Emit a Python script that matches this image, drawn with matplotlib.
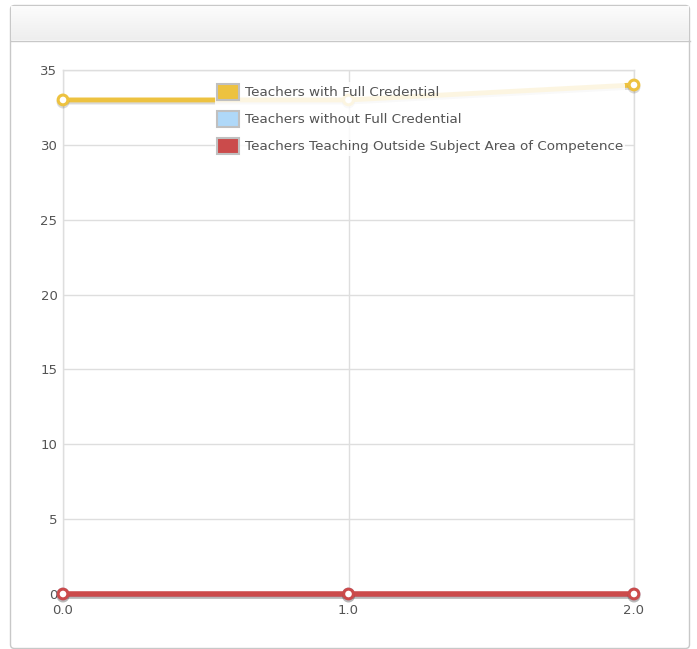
import matplotlib
matplotlib.use("Agg")
import matplotlib.pyplot as plt
import numpy as np
from matplotlib.patches import FancyBboxPatch, Patch
from matplotlib import patheffects as pe

x_values = [0, 1, 2]
x_tick_labels = ["0.0", "1.0", "2.0"]
y_ticks = [0, 5, 10, 15, 20, 25, 30, 35]
series_names = ["Teachers with Full Credential",
                "Teachers without Full Credential",
                "Teachers Teaching Outside Subject Area of Competence"]
full_credential = [33, 33, 34]
without_credential = [0, 0, 0]
outside_subject = [0, 0, 0]
colors = ["#EDC240", "#AFD8F8", "#CB4B4B"]

W, H = 697, 649
fig = plt.figure(figsize=(W / 100, H / 100), dpi=100)
fig.patch.set_facecolor("white")

# outer panel
panel = FancyBboxPatch((10.5 / W, 1 - 648.5 / H), 679 / W, 643 / H,
                       boxstyle="round,pad=0,rounding_size=0.006",
                       transform=fig.transFigure, facecolor="white",
                       edgecolor="#c8c8c8", linewidth=1.0, zorder=-5)
fig.patches.append(panel)
# header gradient
grad = np.linspace(0, 1, 50).reshape(-1, 1)
hax = fig.add_axes([11 / W, 1 - 40 / H, 678 / W, 34 / H], zorder=1)
hax.imshow(grad, aspect="auto", cmap=matplotlib.colors.LinearSegmentedColormap.from_list(
    "g", ["#fcfcfc", "#eeeeee"]), extent=[0, 1, 0, 1], origin="upper")
hax.set_axis_off()
fig.add_artist(plt.Line2D([10.5 / W, 689.5 / W], [1 - 40.5 / H, 1 - 40.5 / H],
                          transform=fig.transFigure, color="#c8c8c8", lw=1.0, zorder=2))

ax = fig.add_axes([63 / W, 1 - 594 / H, (634 - 63) / W, (594 - 70) / H], zorder=1)
ax.set_xlim(0, 2)
ax.set_ylim(0, 35)
ax.set_xticks(x_values)
ax.set_xticklabels(x_tick_labels)
ax.set_yticks(y_ticks)
ax.grid(True, color="#dedede", linewidth=1.0)
ax.set_axisbelow(True)
for s in ax.spines.values():
    s.set_color("#dedede")
    s.set_linewidth(1.0)
ax.tick_params(length=0, labelsize=9.5, labelcolor="#545454")
ax.tick_params(axis="x", pad=7)
ax.tick_params(axis="y", pad=4)

shadow = [pe.SimpleLineShadow(offset=(0, -1.5), shadow_color="black", alpha=0.15), pe.Normal()]
for vals, c, lw in [(full_credential, colors[0], 3.5),
                    (without_credential, colors[1], 3.5),
                    (outside_subject, colors[2], 4.0)]:
    ax.plot(x_values, vals, color=c, lw=lw, marker="o", markersize=7,
            markerfacecolor="white", markeredgecolor=c, markeredgewidth=2.2,
            clip_on=False, path_effects=shadow, zorder=3)

handles = [Patch(facecolor=c, edgecolor="#c0c0c0", linewidth=1.5) for c in colors]
leg = fig.legend(handles, series_names, loc="upper left",
                 bbox_to_anchor=(215 / W, 1 - 82 / H), frameon=True,
                 fontsize=9.7, handlelength=1.65, handleheight=1.4,
                 handletextpad=0.4, labelspacing=0.85, borderpad=0.15,
                 borderaxespad=0)
leg.set_zorder(5)
leg.get_frame().set_facecolor("white")
leg.get_frame().set_alpha(0.85)
leg.get_frame().set_edgecolor("none")
for t in leg.get_texts():
    t.set_color("#545454")

fig.savefig("out.png", dpi=100)
